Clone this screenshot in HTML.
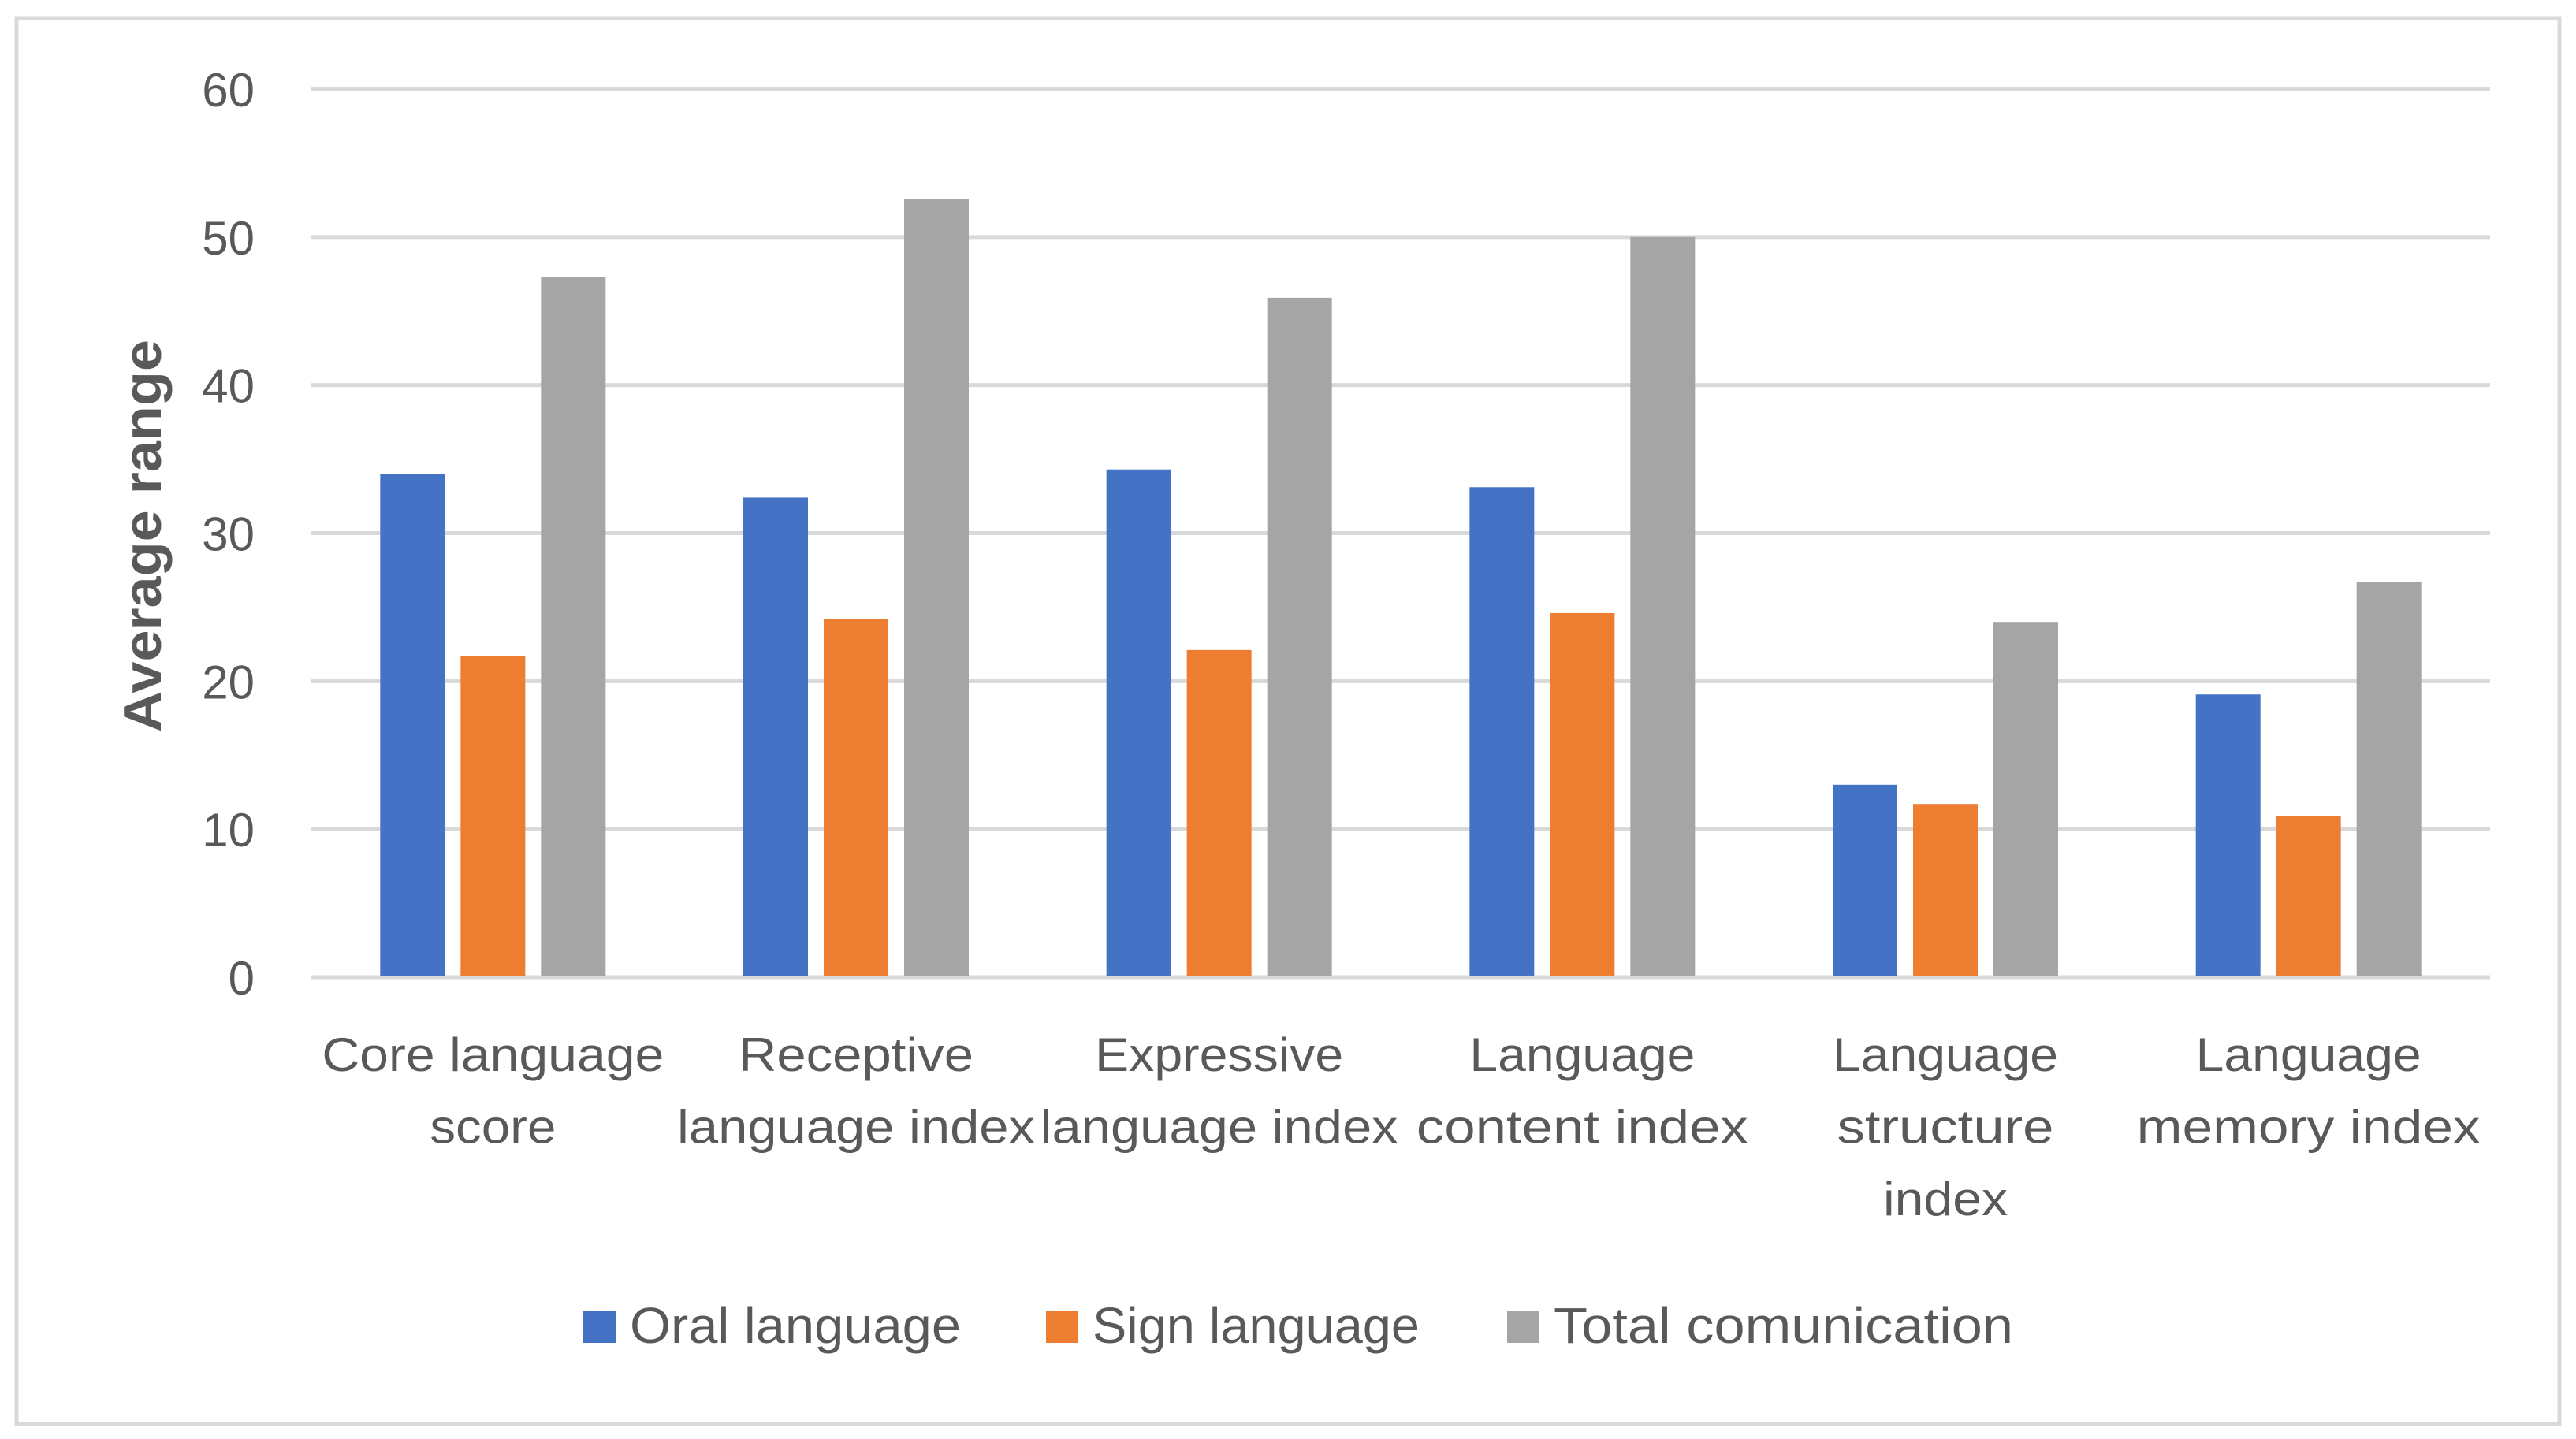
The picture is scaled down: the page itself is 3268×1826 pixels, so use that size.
<!DOCTYPE html>
<html><head><meta charset="utf-8">
<style>
html,body{margin:0;padding:0;background:#fff;}
svg{display:block;}
text{font-family:"Liberation Sans",sans-serif;fill:#595959;}
</style></head>
<body>
<svg id="chart" width="3268" height="1826" viewBox="0 0 3268 1826" xmlns="http://www.w3.org/2000/svg">
<rect x="21" y="23" width="3226" height="1784" fill="#fff" stroke="#d9d9d9" stroke-width="5"/>
<g id="grid"></g>
<g id="bars"></g>
<g id="labels"></g>
<text transform="translate(204,680) rotate(-90)" text-anchor="middle" font-size="68" font-weight="bold" textLength="498" lengthAdjust="spacingAndGlyphs">Average range</text>
<g id="legend"></g>
</svg>
<script>
const categories = [["Core language","score"],["Receptive","language index"],["Expressive","language index"],["Language","content index"],["Language","structure","index"],["Language","memory index"]];
const oral = [34.0, 32.4, 34.3, 33.1, 13.0, 19.1];
const sign = [21.7, 24.2, 22.1, 24.6, 11.7, 10.9];
const total = [47.3, 52.6, 45.9, 50.0, 24.0, 26.7];
const seriesNames = ["Oral language","Sign language","Total comunication"];
const yTicks = [0,10,20,30,40,50,60];

const NS="http://www.w3.org/2000/svg";
const colors=["#4472c4","#ed7d31","#a5a5a5"];
const X0=395,X1=3159,Y0=1240,Y1=113,YMAX=60;
const bandW=(X1-X0)/categories.length;
function y(v){return Y0-(v/YMAX)*(Y0-Y1);}
function xc(i){return X0+bandW*(i+0.5);}
function mk(tag,attrs,parent){const e=document.createElementNS(NS,tag);for(const k in attrs)e.setAttribute(k,attrs[k]);parent.appendChild(e);return e;}
const grid=document.getElementById('grid'),bars=document.getElementById('bars'),labels=document.getElementById('labels'),legend=document.getElementById('legend');
yTicks.forEach(t=>{
  const l=mk('line',{x1:X0,x2:X1,y1:y(t),y2:y(t),stroke:'#d9d9d9','stroke-width':5},grid);
  
  
  const tx=mk('text',{x:323,y:y(t)+22,'text-anchor':'end','font-size':60},grid);
  tx.textContent=String(t);
  
  
});
const series=[oral,sign,total];
const bw=82,gap=20;
series.forEach((s,si)=>{
  s.forEach((v,i)=>{
    const x=xc(i)-(3*bw+2*gap)/2+si*(bw+gap);
    const r=mk('rect',{x:x,y:y(v),width:bw,height:Y0-y(v)-2,fill:colors[si]},bars);
    
    
  });
});
const lineW={"Core language":434,"score":160,"Receptive":298,"language index":454,"Expressive":315,"Language":286,"content index":421,"structure":275,"index":158,"memory index":436};
categories.forEach((c,i)=>{
  c.forEach((line,li)=>{
    const t=mk('text',{x:xc(i),y:1359+li*91.5,'text-anchor':'middle','font-size':60},labels);
    if(lineW[line]){t.setAttribute('textLength',lineW[line]);t.setAttribute('lengthAdjust','spacingAndGlyphs');}
    t.textContent=line;
    
    
  });
});
const legX=[740,1327,1912],legW=[420,415,583];
seriesNames.forEach((n,i)=>{
  const r=mk('rect',{x:legX[i],y:1663,width:41,height:41,fill:colors[i]},legend);
  
  
  const t=mk('text',{x:legX[i]+59,y:1704,'font-size':64,textLength:legW[i],lengthAdjust:'spacingAndGlyphs'},legend);
  t.textContent=n;
  
  
});
</script>
</body></html>
